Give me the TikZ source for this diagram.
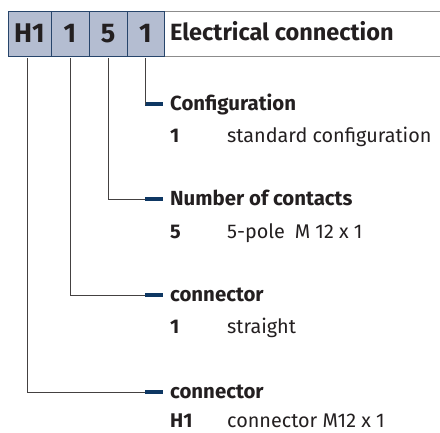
\documentclass[tikz,border=0pt]{standalone}
\usepackage{fontspec}
\setmainfont{Fira Sans}
\usetikzlibrary{positioning}
\definecolor{boxfill}{HTML}{B4BDD1}
\definecolor{boxline}{HTML}{27456B}
\definecolor{dashblue}{HTML}{0E3763}
\definecolor{rulegrey}{HTML}{8C8C8C}
\definecolor{inkgrey}{HTML}{231F20}

\begin{document}
\begin{tikzpicture}[x=1pt,y=-1pt]
				\tikzset{codebox/.style = {shape=rectangle, draw=boxline, fill=boxfill, line width=1pt, minimum height=45pt, inner sep=0pt, outer sep=0pt, text=inkgrey, font=\fontsize{27}{31}\selectfont\bfseries}}
				\tikzset{tick/.style = {shape=rectangle, fill=dashblue, minimum width=18pt, minimum height=4pt, inner sep=0pt}}
				\tikzset{heading/.style = {anchor=base west, inner sep=0pt, text=inkgrey, font=\fontsize{20.4}{24}\selectfont\bfseries}}
				\tikzset{keytext/.style = {anchor=base west, inner sep=0pt, text=inkgrey, font=\fontsize{19.8}{23}\selectfont\bfseries}}
				\tikzset{valtext/.style = {anchor=base west, inner sep=0pt, text=inkgrey, font=\fontsize{19.8}{23}\selectfont}}
				\tikzset{conn/.style = {draw=inkgrey!85, line width=0.9pt}}
				\useasboundingbox (0,0) rectangle (440,432);
				
				% header strip
				\draw[rulegrey, line width=1pt] (8,11) -- (440,11) (8,56) -- (440,56);
				\node[codebox, minimum width=43pt, anchor=north west] (cH1) at (8,11) {H1};
				\node[codebox, minimum width=38pt, right=0pt of cH1] (cConn) {1};
				\node[codebox, minimum width=38pt, right=0pt of cConn] (cPole) {5};
				\node[codebox, minimum width=37pt, right=0pt of cPole] (cConf) {1};
				\node[heading, font=\fontsize{23.5}{28}\selectfont\bfseries] (hElec) at (170,40) {Electrical connection};
				
				% legend entries
				\node[tick] (tConf) at (154,104) {};
				\node[heading] (hConf) at (170,110) {Configuration};
				\node[keytext] (kConf) at (170,142) {1};
				\node[valtext] (vConf) at (227,142) {standard configuration};
				
				\node[tick] (tPole) at (154,199) {};
				\node[heading] (hPole) at (170,205) {Number of contacts};
				\node[keytext] (kPole) at (170,238) {5};
				\node[valtext] (vPole) at (227,238) {5-pole\enspace M 12 x 1};
				
				\node[tick] (tConn) at (154,295) {};
				\node[heading] (hConn) at (170,301) {connector};
				\node[keytext] (kConn) at (170,333) {1};
				\node[valtext] (vConn) at (227,333) {straight};
				
				\node[tick] (tH1) at (154,392) {};
				\node[heading] (hH1) at (170,398) {connector};
				\node[keytext] (kH1) at (170,427.5) {H1};
				\node[valtext] (vH1) at (227,427.5) {connector M12 x 1};
				
				% connectors
				\draw[conn] ([yshift=-2pt]cConf.south) |- (tConf.west);
				\draw[conn] ([yshift=-2pt]cPole.south) |- (tPole.west);
				\draw[conn] ([yshift=-2pt]cConn.south) |- (tConn.west);
				\draw[conn] ([xshift=-2.5pt,yshift=-2pt]cH1.south) |- (tH1.west);
				
				\end{tikzpicture}
\end{document}
